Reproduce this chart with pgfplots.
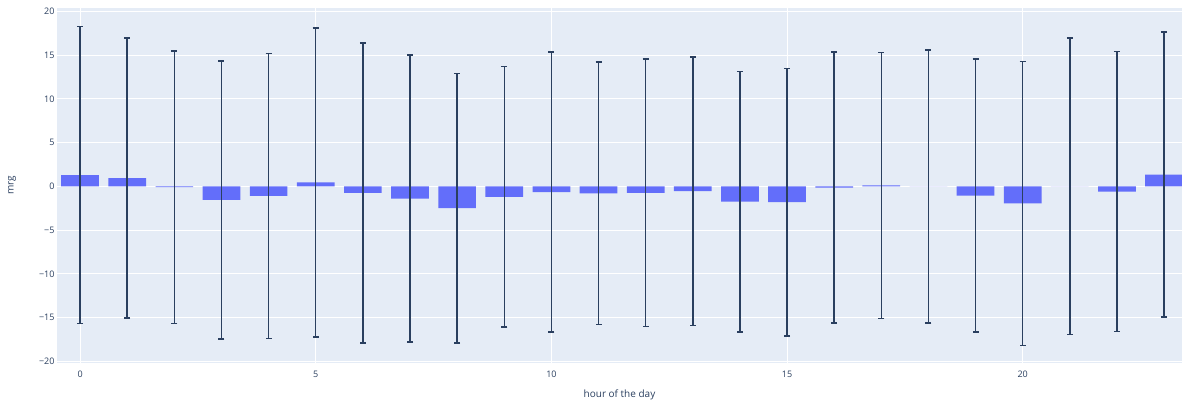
\documentclass[border=0pt]{standalone}
\usepackage{fontspec}
\setmainfont{Open Sans}
\usepackage{pgfplots}
\usepackage{pgfplotstable}
\pgfplotsset{compat=1.18}

\definecolor{plotbg}{HTML}{E5ECF6}
\definecolor{barblue}{HTML}{636EFA}
\definecolor{inkblue}{HTML}{2A3F5F}

% mean mrg per hour of the day, with its spread
\pgfplotstableread{
hour mrg err
0   1.30 17.00
1   0.95 16.00
2  -0.10 15.60
3  -1.55 15.90
4  -1.10 16.30
5   0.45 17.65
6  -0.75 17.15
7  -1.40 16.40
8  -2.50 15.40
9  -1.20 14.90
10 -0.65 16.00
11 -0.80 15.00
12 -0.75 15.30
13 -0.55 15.35
14 -1.75 14.90
15 -1.80 15.30
16 -0.15 15.50
17  0.10 15.20
18  0.00 15.60
19 -1.05 15.60
20 -1.95 16.25
21  0.00 16.95
22 -0.60 16.00
23  1.35 16.30
}\mrgdata

\begin{document}
\begin{tikzpicture}
\useasboundingbox (0,0) rectangle (1182pt,406pt);
\begin{axis}[
  at={(57pt,43pt)}, anchor=south west,
  scale only axis, width=1125pt, height=355pt,
  xmin=-0.49, xmax=23.38, ymin=-20.2, ymax=20.4,
  axis background/.style={fill=plotbg},
  axis line style={draw=none},
  tick style={draw=none},
  grid=major, grid style={white, line width=0.9pt},
  xtick={0,5,10,15,20},
  ytick={-20,-15,-10,-5,0,5,10,15,20},
  yticklabels={−20,−15,−10,−5,0,5,10,15,20},
  /pgf/number format/assume math mode=true,
  ticklabel style={font=\fontsize{9}{10}\selectfont, text=inkblue},
  yticklabel style={xshift=1pt},
  xlabel={hour of the day}, ylabel={mrg},
  label style={font=\fontsize{10}{12}\selectfont, text=inkblue},
  xlabel style={at={(axis description cs:0.5,0)}, anchor=center, yshift=-32pt},
  ylabel style={at={(axis description cs:-0.04,0.5)}, anchor=center},
  ybar, bar width=0.8,
]
\addplot[fill=barblue, draw=none,
  error bars/.cd, y dir=both, y explicit,
  error bar style={inkblue, line width=1.5pt},
  error mark options={rotate=90, inkblue, line width=1.5pt, mark size=3pt}]
  table[x=hour, y=mrg, y error=err]{\mrgdata};
\end{axis}
\end{tikzpicture}
\end{document}
